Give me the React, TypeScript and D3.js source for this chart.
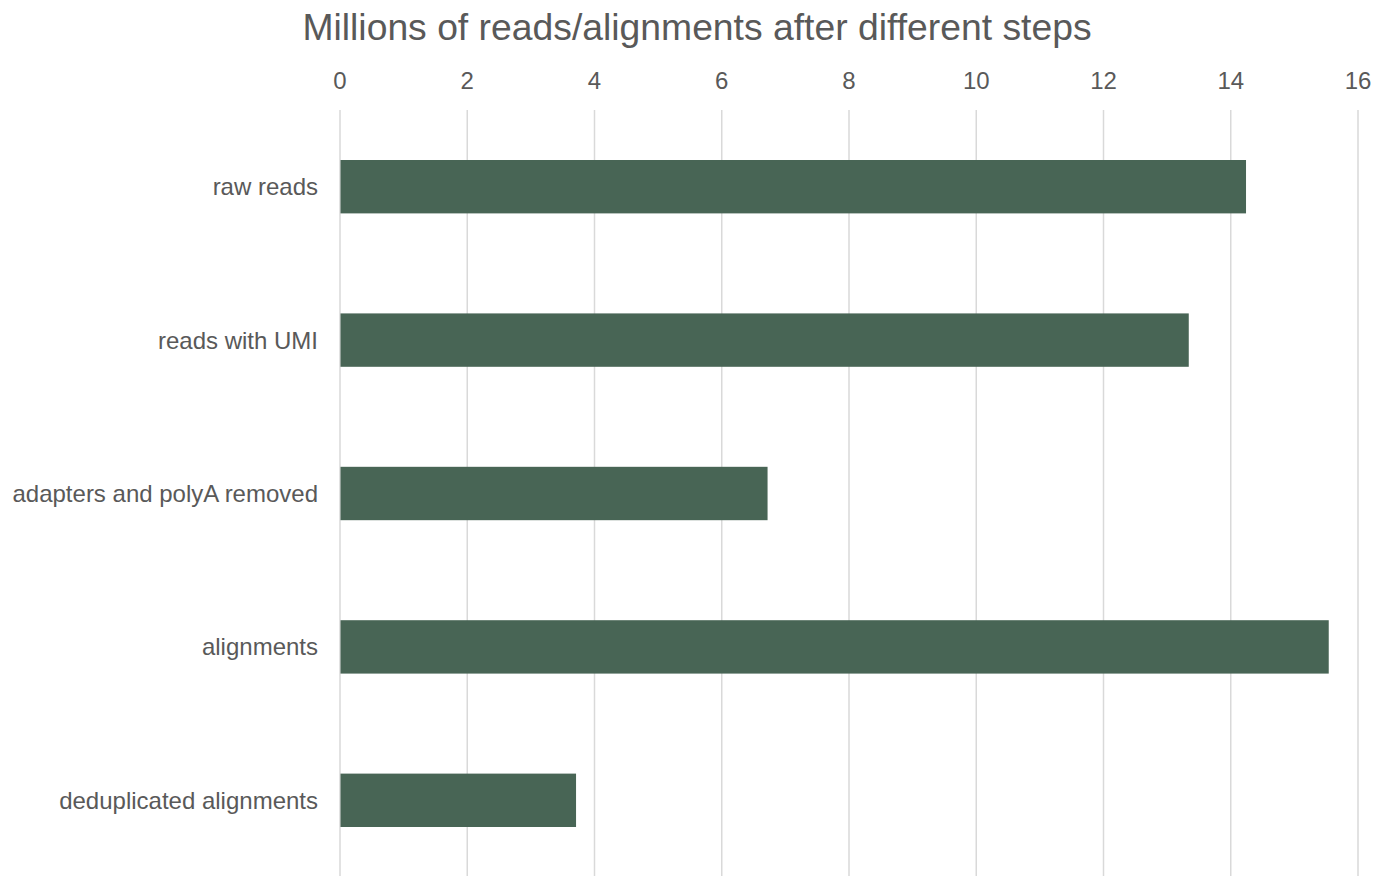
import React from "react";
import * as d3 from "d3";

const categories = ["raw reads", "reads with UMI", "adapters and polyA removed", "alignments", "deduplicated alignments"];
const values = [14.24, 13.34, 6.72, 15.54, 3.71];
const xTicks = [0, 2, 4, 6, 8, 10, 12, 14, 16];
const title = "Millions of reads/alignments after different steps";

export default function App() {
  const W = 1376, H = 876;
  const left = 340, right = 1358, top = 110, bottom = 877;
  const x = d3.scaleLinear().domain([0, 16]).range([left, right]);
  const y = d3.scaleBand().domain(categories).range([top, bottom]).paddingInner(0.652).paddingOuter(0.326);
  const font = "'Liberation Sans', Arial, sans-serif";
  return (
    <svg width={W} height={H} style={{ position: "absolute", left: 0, top: 0, background: "#fff" }}>
      <text x={697} y={40} textAnchor="middle" fontFamily={font} fontSize={37.3} fill="#595959">{title}</text>
      {xTicks.map(t => (
        <g key={t}>
          <line x1={x(t)} x2={x(t)} y1={top} y2={H} stroke="#d9d9d9" strokeWidth={1.5} />
          <text x={x(t)} y={89} textAnchor="middle" fontFamily={font} fontSize={24} fill="#595959">{t}</text>
        </g>
      ))}
      {categories.map((c, i) => (
        <g key={c}>
          <rect x={x(0) + 0.5} y={y(c)!} width={x(values[i]) - x(0) - 0.5} height={y.bandwidth()} fill="#486555" />
          <text x={318} y={y(c)! + y.bandwidth() / 2} dy="0.35em" textAnchor="end" fontFamily={font} fontSize={24} fill="#595959">{c}</text>
        </g>
      ))}
    </svg>
  );
}
